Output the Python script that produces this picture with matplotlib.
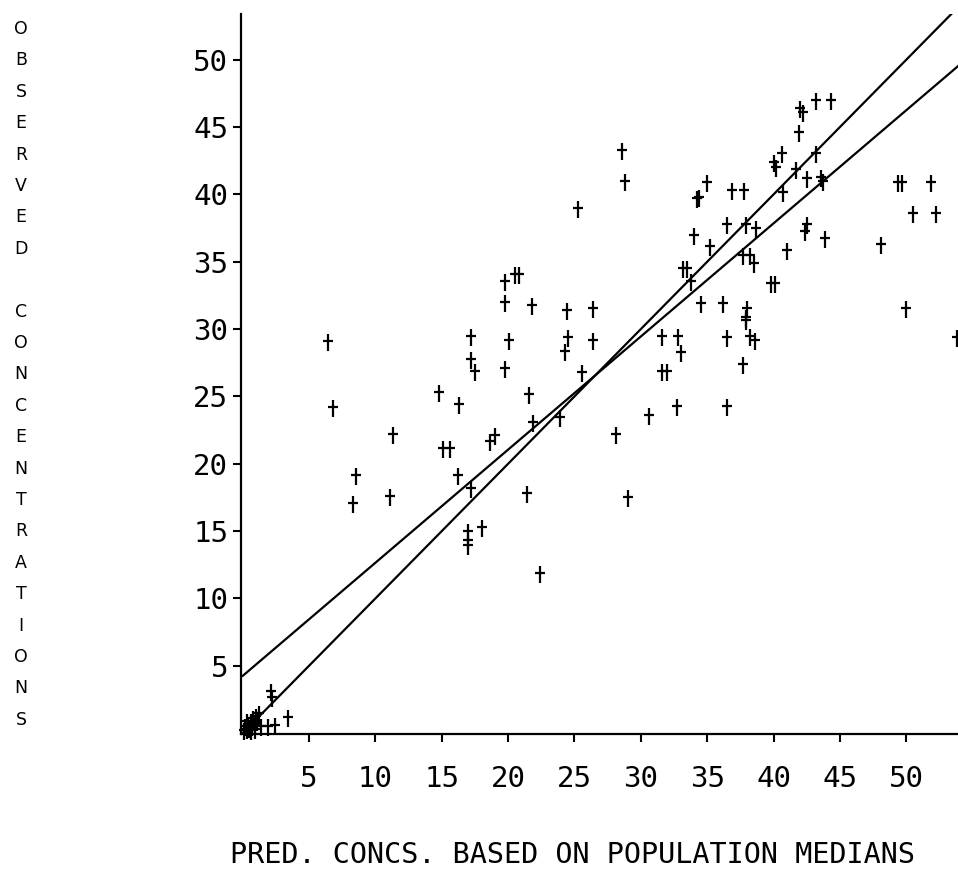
import numpy as np
import matplotlib.pyplot as plt
from matplotlib.path import Path

# predicted vs observed concentrations
pred = [0.1, 0.2, 0.3, 0.4, 0.5, 0.6, 0.7, 0.8, 0.9, 1.0, 1.1, 0.3, 0.6, 1.2, 0.9,
        1.4, 1.9, 2.4, 3.4, 2.1, 2.2,
        6.45, 6.8, 8.5, 8.3, 11.3, 11.1, 14.8, 15.1, 15.6, 16.3, 16.2, 17.2, 17.2, 17.5,
        17.2, 17.0, 17.0, 17.0, 18.0, 18.6, 19.0, 19.8, 20.5, 20.8, 19.8, 20.1, 19.8,
        21.8, 21.6, 21.85, 21.45, 22.4, 23.9, 24.4, 24.5, 24.3, 25.3, 25.6, 26.4, 26.4,
        28.6, 28.8, 28.1, 29.0, 30.6,
        31.6, 32.8, 33.0, 31.6, 32.0, 32.7, 33.2, 33.5, 33.8, 34.0, 34.2, 34.4, 34.5,
        35.0, 35.2, 36.2, 36.5, 36.5, 36.5, 36.85, 37.8, 37.7, 38.2, 38.5, 37.7, 37.9,
        38.7, 38.0, 37.9, 37.9, 38.2, 38.6, 39.8, 40.1, 40.0, 40.2, 40.6, 40.7, 41.0,
        41.7, 41.9, 42.0, 42.2, 42.5, 42.55, 42.4, 43.2, 43.2, 44.3, 43.6, 43.7, 43.9,
        48.1, 49.4, 49.7, 51.9, 50.5, 52.25, 50.0, 53.8]
obs = [0.2, 0.5, 0.3, 0.7, 0.4, 0.9, 0.5, 1.1, 0.7, 1.3, 0.9, 0.9, 0.2, 1.5, 0.3,
       0.5, 0.5, 0.6, 1.2, 3.1, 2.7,
       29.1, 24.2, 19.15, 17.1, 22.2, 17.6, 25.3, 21.2, 21.2, 24.4, 19.2, 29.5, 27.8, 26.9,
       18.2, 15.0, 14.3, 14.0, 15.3, 21.7, 22.1, 33.6, 34.1, 34.1, 32.0, 29.2, 27.1,
       31.8, 25.2, 23.1, 17.8, 11.9, 23.5, 31.4, 29.4, 28.4, 39.0, 26.8, 31.6, 29.2,
       43.3, 41.0, 22.2, 17.5, 23.6,
       29.5, 29.5, 28.3, 26.9, 26.9, 24.3, 34.5, 34.5, 33.6, 37.0, 39.7, 39.8, 31.9,
       40.9, 36.2, 31.9, 37.8, 29.4, 24.3, 40.3, 40.3, 35.5, 35.5, 34.9, 27.4, 37.8,
       37.5, 31.6, 30.9, 30.7, 29.5, 29.2, 33.4, 33.4, 42.4, 42.0, 43.1, 40.2, 35.85,
       41.9, 44.6, 46.4, 46.1, 41.2, 37.8, 37.3, 43.1, 47.0, 47.0, 41.3, 41.0, 36.8,
       36.35, 40.9, 40.9, 40.9, 38.6, 38.6, 31.6, 29.4]

# lines: identity and fitted regression
fit_intercept = 4.25
fit_slope = 0.84
ticks = [5, 10, 15, 20, 25, 30, 35, 40, 45, 50]
ylabel_letters = list("OBSERVED") + [' '] + list("CONCENTRATIONS")
xlabel_text = "PRED. CONCS. BASED ON POPULATION MEDIANS"

num_font = 'DejaVu Sans Mono'

# tall plus sign, cross slightly above the middle
cross = Path([(0, 0.7), (0, -1.0), (-0.5, 0), (0.5, 0)],
             [Path.MOVETO, Path.LINETO, Path.MOVETO, Path.LINETO])

fig = plt.figure(figsize=(9.58, 8.96), dpi=100)
ax = fig.add_axes([0.2513, 0.1808, 0.7487, 0.8036])

xs = np.array([0, 54])
ax.plot(xs, xs, color='black', lw=1.6)
ax.plot(xs, fit_intercept + fit_slope * xs, color='black', lw=1.6)
ax.plot(pred, obs, ls='none', marker=cross, ms=14, mew=1.6, color='black', clip_on=False)

ax.set_xlim(-0.15, 53.9)
ax.set_ylim(-0.07, 53.4)
ax.spines['top'].set_visible(False)
ax.spines['right'].set_visible(False)
ax.spines['left'].set_linewidth(1.6)
ax.spines['bottom'].set_linewidth(1.6)
ax.set_xticks(ticks)
ax.set_yticks(ticks)
ax.tick_params(axis='both', direction='out', length=6, width=1.5, labelsize=21)
ax.tick_params(axis='x', pad=16)
ax.tick_params(axis='y', pad=3)
for lab in ax.get_xticklabels() + ax.get_yticklabels():
    lab.set_family(num_font)

fig.text(0.598, 0.0458, xlabel_text, ha='center', va='center', fontsize=20.5, family=num_font)

# stacked vertical y label
for i, ch in enumerate(ylabel_letters):
    fig.text(21 / 958, 1 - (29 + i * 31.4) / 896, ch, ha='center', va='center',
             fontsize=12.5, family='DejaVu Sans')

fig.savefig('out.png', dpi=100)
